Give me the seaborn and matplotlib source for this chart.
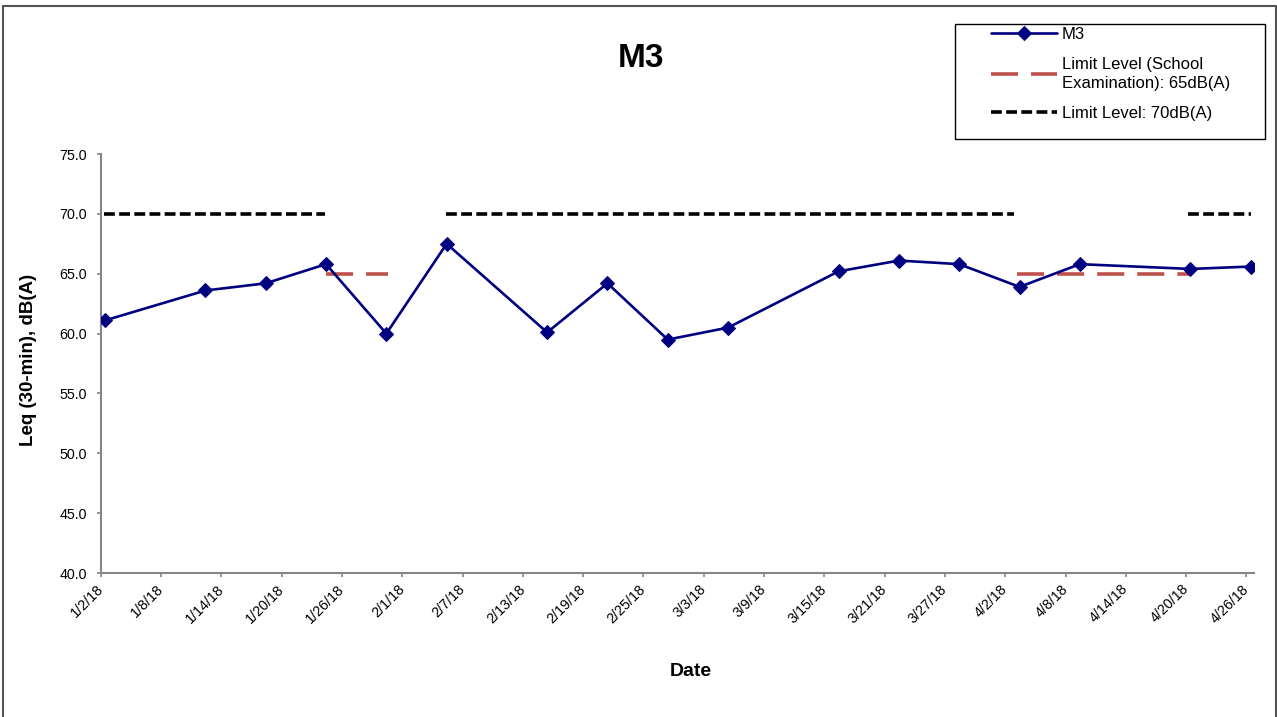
import numpy as np
import pandas as pd
import seaborn as sns
import matplotlib.pyplot as plt
import matplotlib.transforms as mtransforms
from matplotlib.patches import Rectangle

# M3 measurements
dates = ["2018-01-02 10:00", "2018-01-12 10:00", "2018-01-18 10:00", "2018-01-24 10:00",
         "2018-01-30 10:00", "2018-02-05 10:00", "2018-02-15 10:00", "2018-02-21 10:00",
         "2018-02-27 10:00", "2018-03-05 10:00", "2018-03-16 10:00", "2018-03-22 10:00",
         "2018-03-28 10:00", "2018-04-03 10:00", "2018-04-09 10:00", "2018-04-20 10:00",
         "2018-04-26 10:00"]
leq = [61.1, 63.6, 64.2, 65.8, 60.0, 67.5, 60.1, 64.2, 59.5, 60.5,
       65.2, 66.1, 65.8, 63.9, 65.8, 65.4, 65.6]

# limit level segments (start, end)
limit70_segments = [("2018-01-02 08:00", "2018-01-24 08:00"),
                    ("2018-02-05 08:00", "2018-04-02 20:00"),
                    ("2018-04-20 05:00", "2018-04-26 10:00")]
limit65_segments = [("2018-01-24 10:00", "2018-01-30 14:00"),
                    ("2018-04-03 05:00", "2018-04-20 10:00")]
limit70 = 70.0
limit65 = 65.0

tick_labels = ["1/2/18", "1/8/18", "1/14/18", "1/20/18", "1/26/18", "2/1/18", "2/7/18",
               "2/13/18", "2/19/18", "2/25/18", "3/3/18", "3/9/18", "3/15/18", "3/21/18",
               "3/27/18", "4/2/18", "4/8/18", "4/14/18", "4/20/18", "4/26/18"]

df = pd.DataFrame({"Date": pd.to_datetime(dates), "Leq": leq})

sns.set_style("white")
plt.rcParams['font.family'] = ['Liberation Sans', 'DejaVu Sans']
plt.rcParams['text.color'] = 'black'
plt.rcParams['axes.labelcolor'] = 'black'
plt.rcParams['xtick.color'] = 'black'
plt.rcParams['ytick.color'] = 'black'

fig = plt.figure(figsize=(12.77, 7.17), dpi=100)
ax = fig.add_axes([0.0789, 0.2008, 0.9031, 0.5844])

# limit lines
for i, (s, e) in enumerate(limit70_segments):
    seg = pd.DataFrame({"Date": pd.to_datetime([s, e]), "Leq": [limit70, limit70]})
    sns.lineplot(data=seg, x="Date", y="Leq", ax=ax, color="black", lw=2.6,
                 linestyle=(0, (3.0, 1.2)), label="Limit Level: 70dB(A)" if i == 0 else None,
                 zorder=2)
for i, (s, e) in enumerate(limit65_segments):
    seg = pd.DataFrame({"Date": pd.to_datetime([s, e]), "Leq": [limit65, limit65]})
    sns.lineplot(data=seg, x="Date", y="Leq", ax=ax, color="#C0504D", lw=2.6,
                 linestyle=(0, (7.5, 3.6)),
                 label="Limit Level (School\nExamination): 65dB(A)" if i == 0 else None,
                 zorder=2)

sns.lineplot(data=df, x="Date", y="Leq", ax=ax, color="#000080", lw=1.9,
             marker="D", markersize=7.5, markeredgecolor="#000080", label="M3", zorder=3)

ax.set_ylim(40, 75)
ax.set_yticks(np.arange(40, 76, 5))
ax.set_yticklabels([f"{v:.1f}" for v in np.arange(40, 76, 5)], fontsize=10.3)
ax.set_xlim(pd.Timestamp("2018-01-02"), pd.Timestamp("2018-04-26 18:00"))
ax.set_xticks(pd.to_datetime(tick_labels, format="%m/%d/%y"))
ax.set_xticklabels(tick_labels, rotation=45, ha="right", va="center",
                   rotation_mode="anchor", fontsize=10.3)
shift = mtransforms.ScaledTranslation(5 / 100, 1 / 100, fig.dpi_scale_trans)
for lab in ax.get_xticklabels():
    lab.set_transform(lab.get_transform() + shift)
ax.set_xlabel("")
ax.set_ylabel("")

for sp in ["top", "right"]:
    ax.spines[sp].set_visible(False)
for sp in ["left", "bottom"]:
    ax.spines[sp].set_color("#868686")
    ax.spines[sp].set_linewidth(1.5)
ax.tick_params(axis="both", direction="out", length=3, width=1.2, color="#868686",
               left=True, bottom=True)
ax.tick_params(axis="y", pad=7)
ax.tick_params(axis="x", pad=7)

fig.text(0.502, 0.919, "M3", ha="center", va="center", fontsize=24, fontweight="bold")
fig.text(0.022, 0.498, "Leq (30-min), dB(A)", ha="center", va="center", rotation=90,
         fontsize=13.5, fontweight="bold")
fig.text(0.541, 0.063, "Date", ha="center", va="center", fontsize=14, fontweight="bold")

handles, labels = ax.get_legend_handles_labels()
order = [labels.index("M3"), labels.index("Limit Level (School\nExamination): 65dB(A)"),
         labels.index("Limit Level: 70dB(A)")]
ax.get_legend().remove()
leg = fig.legend([handles[i] for i in order], [labels[i] for i in order], loc="upper left",
                 bbox_to_anchor=(991 / 1277, 1 - 27 / 717), frameon=False, fontsize=12,
                 handlelength=3.96, handletextpad=0.3, borderpad=0, borderaxespad=0,
                 labelspacing=0.9)
for t in leg.get_texts():
    t.set_linespacing(1.35)
fig.add_artist(Rectangle((955 / 1277, 1 - 139 / 717), (1265 - 955) / 1277, (139 - 24) / 717,
                         transform=fig.transFigure, fill=False, edgecolor="black", lw=1))

# outer chart border
fig.add_artist(Rectangle((3 / 1277, -0.01), (1276 - 3) / 1277, 1.01 - 6 / 717,
                         transform=fig.transFigure, fill=False, edgecolor="#555555", lw=1.5))

plt.savefig("out.png", dpi=100)
